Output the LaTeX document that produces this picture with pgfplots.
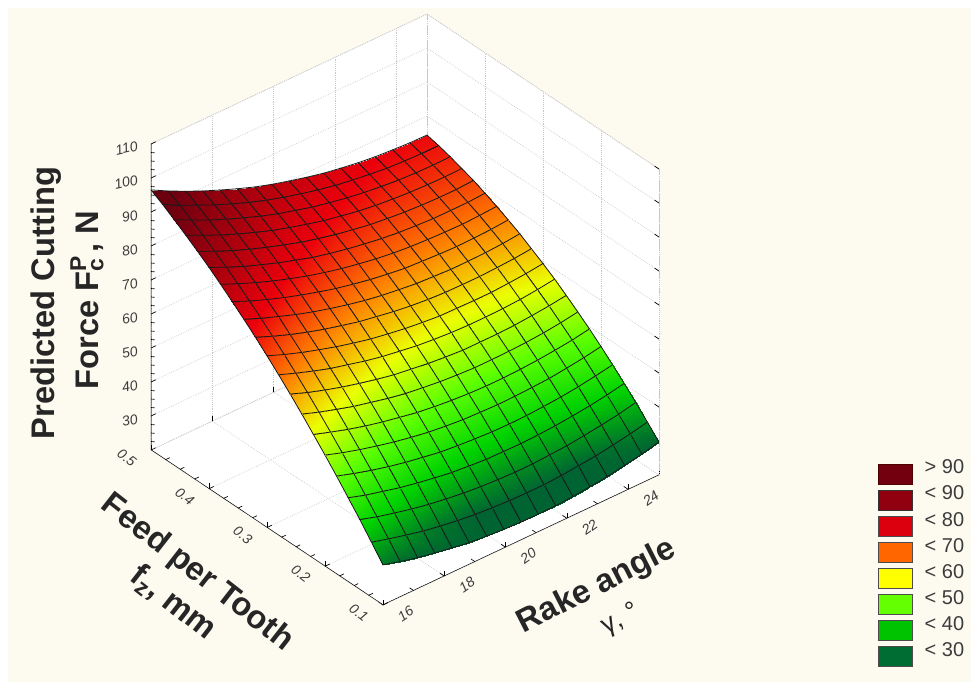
\documentclass[border=0pt]{standalone}
\usepackage{fontspec}
\setmainfont{Liberation Sans}
\usepackage{pgfplots}
\pgfplotsset{compat=1.18}
\usetikzlibrary{calc,backgrounds}
\definecolor{cream}{RGB}{253,250,240}
\definecolor{tl}{RGB}{60,60,60}
\definecolor{lg}{RGB}{200,200,200}
\newcommand{\PX}[2]{($(F)+({(#1-383)*0.75pt},{(605-#2)*0.75pt})$)}
\begin{document}
\begin{tikzpicture}
\begin{axis}[
  name=ax,
  x={(23pt,10.83pt)}, y={(-435pt,290.6pt)}, z={(0pt,2.55pt)},
  xmin=16, xmax=25, ymin=0.1, ymax=0.5, zmin=20, zmax=110,
  xtick={16,18,20,22,24}, ytick={0.1,0.2,0.3,0.4,0.5}, ztick={30,40,50,60,70,80,90,100,110},
  xtick pos=lower, ytick pos=lower, ztick pos=lower,
  grid=major,
  major grid style={densely dotted,lg,line width=0.6pt},
  axis line style={densely dotted,lg,line width=0.6pt},
  tick style={black,line width=0.5pt},
  major tick length=4pt,
  tick label style={font=\itshape\fontsize{10.5}{12}\selectfont,text=tl,/pgf/number format/assume math mode=true},
  yticklabel style={/pgf/number format/fixed,/pgf/number format/precision=1,/pgf/number format/fixed zerofill,rotate=-38,xshift=-11.5pt,yshift=-8.5pt},
  xticklabel style={rotate=35,xshift=11pt,yshift=-8pt},
  zticklabel style={rotate=12,xshift=-6pt,yshift=-3pt},
  point meta min=30, point meta max=102,
  colormap={stat}{rgb255=(0,100,50) rgb255=(0,210,0) rgb255=(90,255,0) rgb255=(235,255,0) rgb255=(255,125,0) rgb255=(235,0,12) rgb255=(165,0,14) rgb255=(110,0,15) rgb255=(100,0,15)},
  legend cell align=left,
  legend image code/.code={\draw[#1] (0pt,-7.5pt) rectangle (25.5pt,7.5pt);},
  legend style={at={(axis description cs:1.431,0.246)},anchor=north west,draw=none,fill=none,
    font=\fontsize{15}{17}\selectfont,text=tl,row sep=1.4pt,column sep=9pt,inner sep=0pt,
    nodes={inner sep=0pt,anchor=base west}},
]
\coordinate (F) at (axis cs:16,0.1,20);
\coordinate (LF) at (axis cs:16,0.5,20);
\coordinate (LT) at (axis cs:16,0.5,110);
\coordinate (BT) at (axis cs:25,0.5,110);
\coordinate (RT) at (axis cs:25,0.1,110);
\coordinate (RF) at (axis cs:25,0.1,20);
\addplot3[surf,forget plot,shader=faceted interp,faceted color=black!90,line width=0.6pt,z buffer=sort,mesh/rows=21,mesh/cols=17]
 table[row sep=\\,x=x,y=y,z=z]{
x y z\\
16 .10 31.8\\ 16.56 .10 30.4\\ 17.13 .10 29.1\\ 17.69 .10 28.1\\ 18.25 .10 27.2\\ 18.81 .10 26.4\\ 19.38 .10 25.9\\ 19.94 .10 25.5\\ 20.5 .10 25.3\\ 21.06 .10 25.2\\ 21.63 .10 25.3\\ 22.19 .10 25.6\\ 22.75 .10 26.1\\ 23.31 .10 26.7\\ 23.88 .10 27.6\\ 24.44 .10 28.5\\ 25 .10 29.7\\
16 .12 36.2\\ 16.56 .12 34.8\\ 17.13 .12 33.5\\ 17.69 .12 32.3\\ 18.25 .12 31.4\\ 18.81 .12 30.6\\ 19.38 .12 30.0\\ 19.94 .12 29.6\\ 20.5 .12 29.3\\ 21.06 .12 29.2\\ 21.63 .12 29.2\\ 22.19 .12 29.5\\ 22.75 .12 30.0\\ 23.31 .12 30.5\\ 23.88 .12 31.3\\ 24.44 .12 32.2\\ 25 .12 33.3\\
16 .14 40.6\\ 16.56 .14 39.0\\ 17.13 .14 37.7\\ 17.69 .14 36.5\\ 18.25 .14 35.5\\ 18.81 .14 34.7\\ 19.38 .14 34.0\\ 19.94 .14 33.5\\ 20.5 .14 33.2\\ 21.06 .14 33.0\\ 21.63 .14 33.0\\ 22.19 .14 33.3\\ 22.75 .14 33.6\\ 23.31 .14 34.2\\ 23.88 .14 34.9\\ 24.44 .14 35.7\\ 25 .14 36.8\\
16 .16 44.7\\ 16.56 .16 43.1\\ 17.13 .16 41.8\\ 17.69 .16 40.5\\ 18.25 .16 39.5\\ 18.81 .16 38.6\\ 19.38 .16 37.8\\ 19.94 .16 37.3\\ 20.5 .16 36.9\\ 21.06 .16 36.8\\ 21.63 .16 36.7\\ 22.19 .16 36.9\\ 22.75 .16 37.2\\ 23.31 .16 37.7\\ 23.88 .16 38.3\\ 24.44 .16 39.1\\ 25 .16 40.1\\
16 .18 48.8\\ 16.56 .18 47.2\\ 17.13 .18 45.7\\ 17.69 .18 44.4\\ 18.25 .18 43.3\\ 18.81 .18 42.4\\ 19.38 .18 41.5\\ 19.94 .18 41.0\\ 20.5 .18 40.6\\ 21.06 .18 40.3\\ 21.63 .18 40.2\\ 22.19 .18 40.3\\ 22.75 .18 40.6\\ 23.31 .18 41.0\\ 23.88 .18 41.6\\ 24.44 .18 42.4\\ 25 .18 43.3\\
16 .20 52.7\\ 16.56 .20 51.0\\ 17.13 .20 49.5\\ 17.69 .20 48.2\\ 18.25 .20 47.0\\ 18.81 .20 46.0\\ 19.38 .20 45.1\\ 19.94 .20 44.5\\ 20.5 .20 44.0\\ 21.06 .20 43.8\\ 21.63 .20 43.6\\ 22.19 .20 43.7\\ 22.75 .20 43.9\\ 23.31 .20 44.2\\ 23.88 .20 44.8\\ 24.44 .20 45.5\\ 25 .20 46.4\\
16 .22 56.5\\ 16.56 .22 54.8\\ 17.13 .22 53.2\\ 17.69 .22 51.8\\ 18.25 .22 50.6\\ 18.81 .22 49.6\\ 19.38 .22 48.6\\ 19.94 .22 47.9\\ 20.5 .22 47.4\\ 21.06 .22 47.0\\ 21.63 .22 46.8\\ 22.19 .22 46.8\\ 22.75 .22 47.0\\ 23.31 .22 47.3\\ 23.88 .22 47.8\\ 24.44 .22 48.4\\ 25 .22 49.3\\
16 .24 60.2\\ 16.56 .24 58.4\\ 17.13 .24 56.8\\ 17.69 .24 55.3\\ 18.25 .24 54.1\\ 18.81 .24 52.9\\ 19.38 .24 51.9\\ 19.94 .24 51.2\\ 20.5 .24 50.6\\ 21.06 .24 50.2\\ 21.63 .24 49.9\\ 22.19 .24 49.9\\ 22.75 .24 50.0\\ 23.31 .24 50.2\\ 23.88 .24 50.6\\ 24.44 .24 51.2\\ 25 .24 52.0\\
16 .26 63.8\\ 16.56 .26 61.9\\ 17.13 .26 60.2\\ 17.69 .26 58.7\\ 18.25 .26 57.4\\ 18.81 .26 56.2\\ 19.38 .26 55.1\\ 19.94 .26 54.4\\ 20.5 .26 53.7\\ 21.06 .26 53.2\\ 21.63 .26 52.8\\ 22.19 .26 52.8\\ 22.75 .26 52.8\\ 23.31 .26 53.0\\ 23.88 .26 53.4\\ 24.44 .26 53.9\\ 25 .26 54.6\\
16 .28 67.2\\ 16.56 .28 65.3\\ 17.13 .28 63.5\\ 17.69 .28 61.9\\ 18.25 .28 60.6\\ 18.81 .28 59.3\\ 19.38 .28 58.2\\ 19.94 .28 57.4\\ 20.5 .28 56.6\\ 21.06 .28 56.1\\ 21.63 .28 55.7\\ 22.19 .28 55.5\\ 22.75 .28 55.5\\ 23.31 .28 55.6\\ 23.88 .28 55.9\\ 24.44 .28 56.4\\ 25 .28 57.1\\
16 .30 70.5\\ 16.56 .30 68.5\\ 17.13 .30 66.7\\ 17.69 .30 65.1\\ 18.25 .30 63.6\\ 18.81 .30 62.3\\ 19.38 .30 61.1\\ 19.94 .30 60.2\\ 20.5 .30 59.4\\ 21.06 .30 58.8\\ 21.63 .30 58.3\\ 22.19 .30 58.2\\ 22.75 .30 58.1\\ 23.31 .30 58.1\\ 23.88 .30 58.4\\ 24.44 .30 58.8\\ 25 .30 59.4\\
16 .32 73.7\\ 16.56 .32 71.6\\ 17.13 .32 69.7\\ 17.69 .32 68.0\\ 18.25 .32 66.5\\ 18.81 .32 65.2\\ 19.38 .32 63.9\\ 19.94 .32 63.0\\ 20.5 .32 62.1\\ 21.06 .32 61.4\\ 21.63 .32 60.9\\ 22.19 .32 60.6\\ 22.75 .32 60.5\\ 23.31 .32 60.5\\ 23.88 .32 60.7\\ 24.44 .32 61.0\\ 25 .32 61.5\\
16 .34 76.7\\ 16.56 .34 74.6\\ 17.13 .34 72.7\\ 17.69 .34 70.9\\ 18.25 .34 69.3\\ 18.81 .34 67.9\\ 19.38 .34 66.6\\ 19.94 .34 65.5\\ 20.5 .34 64.6\\ 21.06 .34 63.9\\ 21.63 .34 63.3\\ 22.19 .34 63.0\\ 22.75 .34 62.7\\ 23.31 .34 62.7\\ 23.88 .34 62.8\\ 24.44 .34 63.1\\ 25 .34 63.6\\
16 .36 79.6\\ 16.56 .36 77.4\\ 17.13 .36 75.4\\ 17.69 .36 73.6\\ 18.25 .36 72.0\\ 18.81 .36 70.5\\ 19.38 .36 69.1\\ 19.94 .36 68.0\\ 20.5 .36 67.0\\ 21.06 .36 66.2\\ 21.63 .36 65.5\\ 22.19 .36 65.2\\ 22.75 .36 64.9\\ 23.31 .36 64.7\\ 23.88 .36 64.8\\ 24.44 .36 65.0\\ 25 .36 65.4\\
16 .38 82.4\\ 16.56 .38 80.2\\ 17.13 .38 78.1\\ 17.69 .38 76.2\\ 18.25 .38 74.5\\ 18.81 .38 72.9\\ 19.38 .38 71.5\\ 19.94 .38 70.3\\ 20.5 .38 69.3\\ 21.06 .38 68.4\\ 21.63 .38 67.7\\ 22.19 .38 67.2\\ 22.75 .38 66.9\\ 23.31 .38 66.7\\ 23.88 .38 66.6\\ 24.44 .38 66.8\\ 25 .38 67.1\\
16 .40 85.1\\ 16.56 .40 82.8\\ 17.13 .40 80.6\\ 17.69 .40 78.7\\ 18.25 .40 76.9\\ 18.81 .40 75.3\\ 19.38 .40 73.7\\ 19.94 .40 72.5\\ 20.5 .40 71.4\\ 21.06 .40 70.5\\ 21.63 .40 69.7\\ 22.19 .40 69.1\\ 22.75 .40 68.7\\ 23.31 .40 68.4\\ 23.88 .40 68.4\\ 24.44 .40 68.4\\ 25 .40 68.7\\
16 .42 87.6\\ 16.56 .42 85.2\\ 17.13 .42 83.0\\ 17.69 .42 81.0\\ 18.25 .42 79.2\\ 18.81 .42 77.5\\ 19.38 .42 75.9\\ 19.94 .42 74.6\\ 20.5 .42 73.4\\ 21.06 .42 72.4\\ 21.63 .42 71.5\\ 22.19 .42 70.9\\ 22.75 .42 70.4\\ 23.31 .42 70.1\\ 23.88 .42 69.9\\ 24.44 .42 69.9\\ 25 .42 70.2\\
16 .44 90.0\\ 16.56 .44 87.6\\ 17.13 .44 85.3\\ 17.69 .44 83.2\\ 18.25 .44 81.3\\ 18.81 .44 79.5\\ 19.38 .44 77.9\\ 19.94 .44 76.5\\ 20.5 .44 75.2\\ 21.06 .44 74.2\\ 21.63 .44 73.2\\ 22.19 .44 72.5\\ 22.75 .44 72.0\\ 23.31 .44 71.6\\ 23.88 .44 71.4\\ 24.44 .44 71.3\\ 25 .44 71.4\\
16 .46 92.3\\ 16.56 .46 89.8\\ 17.13 .46 87.4\\ 17.69 .46 85.3\\ 18.25 .46 83.3\\ 18.81 .46 81.4\\ 19.38 .46 79.7\\ 19.94 .46 78.3\\ 20.5 .46 76.9\\ 21.06 .46 75.8\\ 21.63 .46 74.8\\ 22.19 .46 74.0\\ 22.75 .46 73.4\\ 23.31 .46 72.9\\ 23.88 .46 72.6\\ 24.44 .46 72.5\\ 25 .46 72.6\\
16 .48 94.5\\ 16.56 .48 91.9\\ 17.13 .48 89.5\\ 17.69 .48 87.2\\ 18.25 .48 85.1\\ 18.81 .48 83.2\\ 19.38 .48 81.4\\ 19.94 .48 79.9\\ 20.5 .48 78.5\\ 21.06 .48 77.3\\ 21.63 .48 76.2\\ 22.19 .48 75.4\\ 22.75 .48 74.7\\ 23.31 .48 74.1\\ 23.88 .48 73.8\\ 24.44 .48 73.6\\ 25 .48 73.6\\
16 .50 96.5\\ 16.56 .50 93.8\\ 17.13 .50 91.3\\ 17.69 .50 89.0\\ 18.25 .50 86.9\\ 18.81 .50 84.9\\ 19.38 .50 83.0\\ 19.94 .50 81.4\\ 20.5 .50 80.0\\ 21.06 .50 78.7\\ 21.63 .50 77.5\\ 22.19 .50 76.6\\ 22.75 .50 75.8\\ 23.31 .50 75.2\\ 23.88 .50 74.8\\ 24.44 .50 74.5\\ 25 .50 74.4\\
};
\draw[black,line width=0.7pt] (axis cs:16,0.5,110)--(axis cs:16,0.5,20)--(axis cs:16,0.1,20)--(axis cs:25,0.1,20);
\pgfplotsinvokeforeach{17,19,21,23}{\draw[black,line width=0.5pt] (axis cs:#1,0.1,20)--(axis cs:#1,0.107,20);}
\pgfplotsinvokeforeach{0.125,0.15,0.175,0.225,0.25,0.275,0.325,0.35,0.375,0.425,0.45,0.475}{\draw[black,line width=0.5pt] (axis cs:16,#1,20)--(axis cs:16.14,#1,20);}
\pgfplotsinvokeforeach{22.5,25,27.5,32.5,35,37.5,42.5,45,47.5,52.5,55,57.5,62.5,65,67.5,72.5,75,77.5,82.5,85,87.5,92.5,95,97.5,102.5,105,107.5}{\draw[black,line width=0.5pt] (axis cs:16,0.5,#1)--(axis cs:16.06,0.497,#1);}
\addlegendimage{draw=black!70!red,fill={rgb,255:red,115;green,0;blue,15}}\addlegendentry{> 90}
\addlegendimage{draw=black!80,fill={rgb,255:red,145;green,0;blue,15}}\addlegendentry{< 90}
\addlegendimage{draw=black!70,fill={rgb,255:red,220;green,0;blue,15}}\addlegendentry{< 80}
\addlegendimage{draw=black!70,fill={rgb,255:red,255;green,102;blue,0}}\addlegendentry{< 70}
\addlegendimage{draw=black!70,fill={rgb,255:red,255;green,255;blue,0}}\addlegendentry{< 60}
\addlegendimage{draw=black!70,fill={rgb,255:red,100;green,255;blue,0}}\addlegendentry{< 50}
\addlegendimage{draw=black!70,fill={rgb,255:red,0;green,195;blue,0}}\addlegendentry{< 40}
\addlegendimage{draw=black!70,fill={rgb,255:red,0;green,110;blue,50}}\addlegendentry{< 30}
\end{axis}
\begin{scope}[on background layer]
\fill[cream] ($(F)+(-281.25pt,-57.75pt)$) rectangle ($(F)+(441pt,447.75pt)$);
\fill[white] (LF)--(F)--(RF)--(RT)--(BT)--(LT)--cycle;
\end{scope}
\node[rotate=90,font=\bfseries\fontsize{24.5}{28}\selectfont,text=black!85] at \PX{46}{303} {Predicted Cutting};
\node[rotate=90,font=\bfseries\fontsize{24.5}{28}\selectfont,text=black!85] at \PX{87}{300} {Force F\rlap{\textsuperscript{P}}\textsubscript{c}\,, N};
\node[rotate=-38,font=\bfseries\fontsize{24.5}{28}\selectfont,text=black!85] at \PX{197}{573} {Feed per Tooth};
\node[rotate=-38,font=\bfseries\fontsize{24.5}{28}\selectfont,text=black!85] at \PX{173}{603} {f\textsubscript{z}, mm};
\node[rotate=27,font=\bfseries\fontsize{24.5}{28}\selectfont,text=black!85] at \PX{597}{587} {Rake angle};
\node[rotate=27,font=\fontsize{20}{24}\selectfont,text=black!85] at \PX{621}{620} {γ,\ °};
\pgfresetboundingbox
\path[use as bounding box] ($(F)+(-287.25pt,-57.75pt)$) rectangle ($(F)+(441pt,453.75pt)$);
\end{tikzpicture}
\end{document}
